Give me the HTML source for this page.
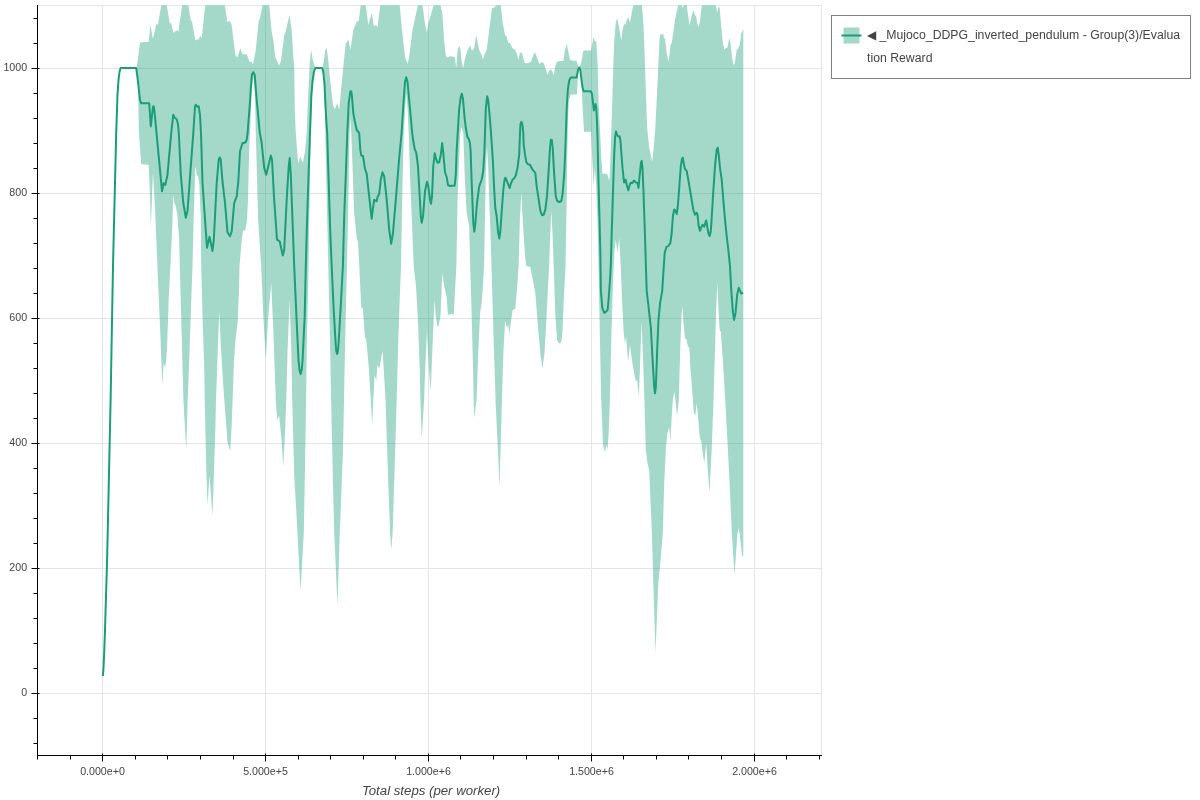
<!DOCTYPE html>
<html><head><meta charset="utf-8"><title>Evaluation Reward</title>
<style>
html,body{margin:0;padding:0;background:#fff;}
body{width:1200px;height:800px;position:relative;overflow:hidden;font-family:"Liberation Sans",sans-serif;}
svg{position:absolute;left:0;top:0;}
svg text{font-family:"Liberation Sans",sans-serif;fill:#444;}
.tl{font-size:10.667px;}
.al{font-size:13.23px;font-style:italic;}
.legend{position:absolute;left:831px;top:15px;width:358px;height:62px;border:1px solid #808080;background:#fff;}
.legend .lab{position:absolute;left:35px;top:8px;width:330px;font-size:12.28px;line-height:22.5px;color:#444;white-space:nowrap;}
</style></head><body>
<svg width="1200" height="800" viewBox="0 0 1200 800">
<defs><clipPath id="cp"><rect x="38" y="5" width="784" height="750"/></clipPath></defs>
<rect x="37.5" y="5.5" width="784" height="750" fill="#fff" stroke="#e5e5e5" stroke-width="1"/>
<path d="M102.5 5.5V755.5M265.5 5.5V755.5M428.5 5.5V755.5M591.5 5.5V755.5M754.5 5.5V755.5M37.5 693.5H821.5M37.5 568.5H821.5M37.5 443.5H821.5M37.5 318.5H821.5M37.5 193.5H821.5M37.5 68.5H821.5" stroke="#e5e5e5" stroke-width="1" fill="none"/>
<g clip-path="url(#cp)">
<polygon points="136.7,68 140,42.5 148.8,41.7 150.3,25 153,39 156.3,24 158,24.7 161.3,5 166.7,5 169.7,23.3 171.3,23.3 173.3,32.8 177,30.3 178.3,31.7 182.2,5 188.3,5 190.8,20.8 192,21.3 195.3,40.5 197.5,39.2 198.7,39.7 200,35.8 201.7,38.3 205.3,5 224.7,5 227.5,22.2 229.7,20.8 231.7,25 235.3,55 237.5,57.5 240.3,48.3 242.5,54.2 246.7,54.2 249.5,61.7 251.7,62 253,64.2 255.8,50 258.7,20.8 260,18.3 262.5,5 269.2,5 271.7,31.7 273.3,40 275.3,57.5 279.2,65.3 280.8,61.7 284.3,35 285.7,31.3 287.5,23.6 289.5,15 291.7,30 293.2,55 294.3,68 294.7,108 295.8,133 297,149.7 298.3,163.8 300.3,156.3 302,161.3 303,162.2 305,151.3 306.7,133 308,100 309.7,63.3 311.2,49.7 312.75,60 315,66.75 315.6,67.6 322,67.6 322.5,67.5 324,60 325.3,50 326.7,48 328,58.3 330,78.3 331.7,93.3 333,105 335,109.2 337.2,103 339.2,109.7 340.8,93.3 342.5,75 345,50 345.8,43.7 348.3,39.5 350.5,49.7 353.3,30 356.7,21.7 358.7,20.8 360.8,5 365.8,5 368.3,25 371.7,13.3 373.8,25.8 376.3,25 377.5,27.5 380.3,5 399.7,5 402,30 405,56.7 407.5,63.8 409.2,56.7 412.5,30 415,18.3 418,5 422.5,5 424.7,21.7 426.7,32.5 428.7,21.7 430.8,15 433.7,5 440.5,5 442.5,15 444.2,41.7 445.8,55.8 447.5,57.5 450,56.3 454.7,57 456.3,68 457.5,50 459.2,46.3 460.3,48.3 461.7,61.7 463.3,68.3 465,58.3 467.5,50.8 470,45.3 472,50.8 474.2,48.3 476.2,35.3 479.2,50 481.3,54.2 483,59.5 484.2,55 486.7,50 489.2,30 492,8.3 494.2,7.5 496.7,5 500.8,5 502.5,21.7 505,35 506.7,36.7 508.3,43.3 509.7,42.5 512.5,48.3 515,49.7 517,54.2 518.3,59.7 520,53.3 521.2,52 522.5,55 524.7,63 527.5,63.3 530.8,62 533.3,55 535,52.2 536.7,56.7 539.2,63.7 542.5,62 544.2,64.2 545.8,69.2 547.5,74.7 549.2,70.8 550.8,69.2 552.5,71.7 553.8,75.3 555.3,65.8 557,61.7 560,61 563.3,61 565,50 566.7,43.7 568.3,51.7 570,59.7 572.5,60.8 576.7,60.8 578.25,66.75 579.2,67.5 581.25,63 583.1,51.4 584.25,50.6 591,50.6 592.5,42.75 593.6,36.6 594.75,41.25 596.25,41.6 597,52.5 597.75,67.5 598.6,102.5 599.75,125 601.3,158 602.4,173.75 605,173.75 607.25,174 608.75,179 609.5,180.5 610.25,162.5 611,140 611.75,117.5 612.5,95 613.5,60 614.25,41.25 615.8,21.7 617.5,18.7 619.2,28.3 621.3,40.8 622.5,30 624.2,23.3 625.3,25 626.7,20 628.3,17.5 630,22.5 631.7,13.3 633.3,5 641.9,5 643.5,25 644.6,52.5 645.5,80 646.5,110 647.2,128 649.2,147.5 652.2,162 653.75,147.5 655.2,130 656.7,100 658.3,66.7 659.6,38.3 660.5,33.8 662.2,35 663.3,33 663.8,38 665,38.7 666.7,53.3 668.4,62 669.7,53.3 670.5,44.7 671.7,43.3 673.3,32.5 675,20 676.7,11.7 678.3,5 681.7,5 682.5,8.3 683.7,5 686.7,5 688,15 689.5,25.3 690.8,20 692.5,12.5 693.5,10.8 695,15 696.2,16.3 697.2,23.3 698.3,26.7 699.7,23.3 700.8,13.3 702,5 715.8,5 717.2,12.5 718.7,6.3 719.7,8.3 720.8,21.7 722.5,40 724.2,49.7 725.8,48.3 727.5,47.5 728.7,40.8 729.5,38.3 730.5,43.3 731.7,55 733,63.3 733.8,65.3 735,61.7 736.7,50 738.3,48.3 739.7,45 741.3,33.3 743.3,29.2 743.3,555.5 742,556 739.7,533 738.3,528.3 737.5,533 734.5,574.7 731.8,533 730,491.7 727.5,441.7 725.2,400 723.8,374.9 722.1,349.8 720.9,332.2 719.6,329.6 718.4,307.9 717.4,282.8 716.2,307.9 715,349.8 713.5,400 712,441.7 710.8,466.7 709.5,492.5 707.5,466.7 706.3,443.7 705.5,450 704.3,463.3 703,455 701.7,443.3 699.7,436.7 698,416.7 696.7,403.3 695.3,415.8 693.7,411.7 692.9,400 691.9,386.6 690.3,366.5 689.4,348.1 687.7,345.6 686.6,339.7 684.9,338 683.6,324.6 682.4,306.2 681.5,316.3 680.2,349.8 678.8,400 677,416.3 675.5,400 674.3,391.2 672.8,400 671.7,416.7 670.5,441.3 669.2,427 667.2,434 665.8,450 664.2,483.3 662.8,533 660.8,558 658.3,583 655.5,652.7 653.3,583 651.9,533 650.8,508.3 649.2,470 647.5,463.3 645.8,450 644.4,400 643.3,366.5 641.6,321.3 640,366.5 638.8,396.6 637.1,379.9 635.8,381.6 632.4,363.2 629.9,344.7 628.2,362.3 626.1,336.4 624.9,343 623.7,333 622.4,307.9 620.7,266 619.2,238 617.5,253 615.8,239.7 614.5,250 613.7,266 612.7,291.1 611.5,333 609.9,400 608.7,433.3 607.5,449.7 606.3,445 605,452.5 603,445 601.2,400 599.8,333 598.6,266 597.5,220 596.2,185 594.9,167 593.7,186 592.3,160 591.1,131.75 584,131.75 582.5,105 581.4,80 580.3,72 579.2,68.5 578.2,72 576.9,94.3 570.7,94.5 568.9,100 568,120 567.3,150 566.7,200 565.5,266 563.8,299.5 562.4,333 561.2,342.2 559.1,343.4 557.1,339.7 555.4,316.3 553.7,266 552.5,233 551.3,210.5 550.3,233 549.1,266 547.8,291.1 546.2,324.6 544.5,353.1 542.3,368.5 540.3,353.1 537.8,324.6 535.3,292.8 532.8,279.4 530.3,267 526.3,266 525,256.3 523,224.7 521.3,193 520,216.3 518.6,266 516.9,291.1 515.2,308.7 512.7,309.9 511,321.3 509.3,334.3 508.1,324.6 507.1,328 505.1,321.3 503.5,349.8 501.9,400 500.8,441.7 499.5,486.7 498.3,458.3 496.7,425 495.5,400 495.1,383.3 493.4,333 491.5,266 490.2,225 489.2,200 488.3,170 487,146 485.8,172 485.3,200 484.1,266 482.6,291.1 481.5,304 480.1,312.9 478.4,349.8 476.5,400 474.3,417.8 473.6,400 473.2,374.9 471.7,316.3 470.2,266 469.2,226.3 466.7,213 465,183 463.3,133 461.5,127 460.3,133 459.2,158 457.5,199.7 456.4,266 455,291.1 453.8,314.6 451,314 448,314.9 446.6,296.2 444.1,286.1 442.5,273 442,280 441.2,300 440.5,316 439.3,322 438.2,327.6 437.2,325 435.8,316 434.5,300 432.4,349.8 430.7,391.6 428.7,366.5 427,330.5 425.3,366.5 424.1,400 421.7,439.2 420.4,400 419.8,369.9 418.1,324.6 416,286.1 413.7,266 411.7,216.3 410,174.7 408.7,133 407.6,110 406.4,93.5 405.3,105 403.8,133 402.5,183 401,266 399.7,299.5 398,349.8 396.7,400 394.7,466.7 392.6,533 391.3,549.7 390.1,533 388.3,483.3 385.5,400 384.1,374.9 382.5,350.6 379.3,369 377.4,364.8 376.3,380.7 374.6,374.9 373.3,400 372.2,425 370.8,400 368.7,366.5 366.2,338.9 365,338 362.9,308.7 361.2,307 359.3,266 358,242.2 356.7,238 354.2,213 352.5,166.3 351.3,133 350.4,118 349.5,133 348.7,183 347,266 345.3,333 344,400 343,450 341.7,483.3 339.8,533 337.5,605.5 334.2,533 333,483.3 331.1,400 330.2,349.8 328.3,266 325.3,133 324.6,98 324,83 323,72.5 322.1,68.2 315.4,68.2 314.1,72.5 312.7,83 311.6,98 310.6,133 308.6,266 306.7,349.8 306.1,400 305,466.7 303.8,533 300.5,591.7 297.5,533 294.2,475 292.2,400 291.3,349.8 289.6,299.5 287.6,349.8 286.3,400 285,433.3 283.3,466.7 281.7,441.7 279.2,415.8 277.2,419.7 275.8,400 273.4,333 271.2,282.8 268.3,316.3 265.8,359.8 263.3,316.3 261.2,266 260,249.7 258,216.3 256.7,166.3 255.8,133 255,95 253.3,76 251.5,95 250,133 249.2,149.7 248,199.7 247,219.7 245.3,230.5 243,230.5 241.7,239.7 239.5,266 239,291.1 237.7,321.3 235.7,338 234,359.8 232.6,400 231.7,425 230.2,451.3 227.5,441.7 224.3,400 223.1,383.3 220.6,341.4 219.3,311.2 218.1,341.4 216,400 215,441.7 212.5,515.8 209.5,475.8 207.5,505 206.2,466.7 204.7,400 204.2,366.5 202.5,316.3 201.2,266 200.8,216.3 199.2,183 198,176 196.7,174.7 195.8,166.3 195.3,168.8 193.7,216.3 192.5,266 191.3,299.5 189.6,349.8 187.7,400 186.2,449.7 183.4,400 182.1,349.8 179.8,266 179.2,241.3 177.5,216.3 175.8,206.3 174.5,203.8 173.3,195.5 172,233 170.4,266 168.7,299.5 167,349.8 165.3,367.8 163.7,363 162.3,385.3 160.3,333 157.4,266 155,208 153,172.2 152,196.3 150.8,228 150,196.3 148.7,164.7 141.3,164.3 138.9,133 138,83 136.7,68" fill="#fff"/>
<path d="M37.5 68.5H821.5M37.5 193.5H821.5M37.5 318.5H821.5M37.5 443.5H821.5M37.5 568.5H821.5M102.5 5.5V755.5M265.5 5.5V755.5M428.5 5.5V755.5M591.5 5.5V755.5" stroke="#e5e5e5" stroke-width="1" fill="none"/>
<polygon points="136.7,68 140,42.5 148.8,41.7 150.3,25 153,39 156.3,24 158,24.7 161.3,5 166.7,5 169.7,23.3 171.3,23.3 173.3,32.8 177,30.3 178.3,31.7 182.2,5 188.3,5 190.8,20.8 192,21.3 195.3,40.5 197.5,39.2 198.7,39.7 200,35.8 201.7,38.3 205.3,5 224.7,5 227.5,22.2 229.7,20.8 231.7,25 235.3,55 237.5,57.5 240.3,48.3 242.5,54.2 246.7,54.2 249.5,61.7 251.7,62 253,64.2 255.8,50 258.7,20.8 260,18.3 262.5,5 269.2,5 271.7,31.7 273.3,40 275.3,57.5 279.2,65.3 280.8,61.7 284.3,35 285.7,31.3 287.5,23.6 289.5,15 291.7,30 293.2,55 294.3,68 294.7,108 295.8,133 297,149.7 298.3,163.8 300.3,156.3 302,161.3 303,162.2 305,151.3 306.7,133 308,100 309.7,63.3 311.2,49.7 312.75,60 315,66.75 315.6,67.6 322,67.6 322.5,67.5 324,60 325.3,50 326.7,48 328,58.3 330,78.3 331.7,93.3 333,105 335,109.2 337.2,103 339.2,109.7 340.8,93.3 342.5,75 345,50 345.8,43.7 348.3,39.5 350.5,49.7 353.3,30 356.7,21.7 358.7,20.8 360.8,5 365.8,5 368.3,25 371.7,13.3 373.8,25.8 376.3,25 377.5,27.5 380.3,5 399.7,5 402,30 405,56.7 407.5,63.8 409.2,56.7 412.5,30 415,18.3 418,5 422.5,5 424.7,21.7 426.7,32.5 428.7,21.7 430.8,15 433.7,5 440.5,5 442.5,15 444.2,41.7 445.8,55.8 447.5,57.5 450,56.3 454.7,57 456.3,68 457.5,50 459.2,46.3 460.3,48.3 461.7,61.7 463.3,68.3 465,58.3 467.5,50.8 470,45.3 472,50.8 474.2,48.3 476.2,35.3 479.2,50 481.3,54.2 483,59.5 484.2,55 486.7,50 489.2,30 492,8.3 494.2,7.5 496.7,5 500.8,5 502.5,21.7 505,35 506.7,36.7 508.3,43.3 509.7,42.5 512.5,48.3 515,49.7 517,54.2 518.3,59.7 520,53.3 521.2,52 522.5,55 524.7,63 527.5,63.3 530.8,62 533.3,55 535,52.2 536.7,56.7 539.2,63.7 542.5,62 544.2,64.2 545.8,69.2 547.5,74.7 549.2,70.8 550.8,69.2 552.5,71.7 553.8,75.3 555.3,65.8 557,61.7 560,61 563.3,61 565,50 566.7,43.7 568.3,51.7 570,59.7 572.5,60.8 576.7,60.8 578.25,66.75 579.2,67.5 581.25,63 583.1,51.4 584.25,50.6 591,50.6 592.5,42.75 593.6,36.6 594.75,41.25 596.25,41.6 597,52.5 597.75,67.5 598.6,102.5 599.75,125 601.3,158 602.4,173.75 605,173.75 607.25,174 608.75,179 609.5,180.5 610.25,162.5 611,140 611.75,117.5 612.5,95 613.5,60 614.25,41.25 615.8,21.7 617.5,18.7 619.2,28.3 621.3,40.8 622.5,30 624.2,23.3 625.3,25 626.7,20 628.3,17.5 630,22.5 631.7,13.3 633.3,5 641.9,5 643.5,25 644.6,52.5 645.5,80 646.5,110 647.2,128 649.2,147.5 652.2,162 653.75,147.5 655.2,130 656.7,100 658.3,66.7 659.6,38.3 660.5,33.8 662.2,35 663.3,33 663.8,38 665,38.7 666.7,53.3 668.4,62 669.7,53.3 670.5,44.7 671.7,43.3 673.3,32.5 675,20 676.7,11.7 678.3,5 681.7,5 682.5,8.3 683.7,5 686.7,5 688,15 689.5,25.3 690.8,20 692.5,12.5 693.5,10.8 695,15 696.2,16.3 697.2,23.3 698.3,26.7 699.7,23.3 700.8,13.3 702,5 715.8,5 717.2,12.5 718.7,6.3 719.7,8.3 720.8,21.7 722.5,40 724.2,49.7 725.8,48.3 727.5,47.5 728.7,40.8 729.5,38.3 730.5,43.3 731.7,55 733,63.3 733.8,65.3 735,61.7 736.7,50 738.3,48.3 739.7,45 741.3,33.3 743.3,29.2 743.3,555.5 742,556 739.7,533 738.3,528.3 737.5,533 734.5,574.7 731.8,533 730,491.7 727.5,441.7 725.2,400 723.8,374.9 722.1,349.8 720.9,332.2 719.6,329.6 718.4,307.9 717.4,282.8 716.2,307.9 715,349.8 713.5,400 712,441.7 710.8,466.7 709.5,492.5 707.5,466.7 706.3,443.7 705.5,450 704.3,463.3 703,455 701.7,443.3 699.7,436.7 698,416.7 696.7,403.3 695.3,415.8 693.7,411.7 692.9,400 691.9,386.6 690.3,366.5 689.4,348.1 687.7,345.6 686.6,339.7 684.9,338 683.6,324.6 682.4,306.2 681.5,316.3 680.2,349.8 678.8,400 677,416.3 675.5,400 674.3,391.2 672.8,400 671.7,416.7 670.5,441.3 669.2,427 667.2,434 665.8,450 664.2,483.3 662.8,533 660.8,558 658.3,583 655.5,652.7 653.3,583 651.9,533 650.8,508.3 649.2,470 647.5,463.3 645.8,450 644.4,400 643.3,366.5 641.6,321.3 640,366.5 638.8,396.6 637.1,379.9 635.8,381.6 632.4,363.2 629.9,344.7 628.2,362.3 626.1,336.4 624.9,343 623.7,333 622.4,307.9 620.7,266 619.2,238 617.5,253 615.8,239.7 614.5,250 613.7,266 612.7,291.1 611.5,333 609.9,400 608.7,433.3 607.5,449.7 606.3,445 605,452.5 603,445 601.2,400 599.8,333 598.6,266 597.5,220 596.2,185 594.9,167 593.7,186 592.3,160 591.1,131.75 584,131.75 582.5,105 581.4,80 580.3,72 579.2,68.5 578.2,72 576.9,94.3 570.7,94.5 568.9,100 568,120 567.3,150 566.7,200 565.5,266 563.8,299.5 562.4,333 561.2,342.2 559.1,343.4 557.1,339.7 555.4,316.3 553.7,266 552.5,233 551.3,210.5 550.3,233 549.1,266 547.8,291.1 546.2,324.6 544.5,353.1 542.3,368.5 540.3,353.1 537.8,324.6 535.3,292.8 532.8,279.4 530.3,267 526.3,266 525,256.3 523,224.7 521.3,193 520,216.3 518.6,266 516.9,291.1 515.2,308.7 512.7,309.9 511,321.3 509.3,334.3 508.1,324.6 507.1,328 505.1,321.3 503.5,349.8 501.9,400 500.8,441.7 499.5,486.7 498.3,458.3 496.7,425 495.5,400 495.1,383.3 493.4,333 491.5,266 490.2,225 489.2,200 488.3,170 487,146 485.8,172 485.3,200 484.1,266 482.6,291.1 481.5,304 480.1,312.9 478.4,349.8 476.5,400 474.3,417.8 473.6,400 473.2,374.9 471.7,316.3 470.2,266 469.2,226.3 466.7,213 465,183 463.3,133 461.5,127 460.3,133 459.2,158 457.5,199.7 456.4,266 455,291.1 453.8,314.6 451,314 448,314.9 446.6,296.2 444.1,286.1 442.5,273 442,280 441.2,300 440.5,316 439.3,322 438.2,327.6 437.2,325 435.8,316 434.5,300 432.4,349.8 430.7,391.6 428.7,366.5 427,330.5 425.3,366.5 424.1,400 421.7,439.2 420.4,400 419.8,369.9 418.1,324.6 416,286.1 413.7,266 411.7,216.3 410,174.7 408.7,133 407.6,110 406.4,93.5 405.3,105 403.8,133 402.5,183 401,266 399.7,299.5 398,349.8 396.7,400 394.7,466.7 392.6,533 391.3,549.7 390.1,533 388.3,483.3 385.5,400 384.1,374.9 382.5,350.6 379.3,369 377.4,364.8 376.3,380.7 374.6,374.9 373.3,400 372.2,425 370.8,400 368.7,366.5 366.2,338.9 365,338 362.9,308.7 361.2,307 359.3,266 358,242.2 356.7,238 354.2,213 352.5,166.3 351.3,133 350.4,118 349.5,133 348.7,183 347,266 345.3,333 344,400 343,450 341.7,483.3 339.8,533 337.5,605.5 334.2,533 333,483.3 331.1,400 330.2,349.8 328.3,266 325.3,133 324.6,98 324,83 323,72.5 322.1,68.2 315.4,68.2 314.1,72.5 312.7,83 311.6,98 310.6,133 308.6,266 306.7,349.8 306.1,400 305,466.7 303.8,533 300.5,591.7 297.5,533 294.2,475 292.2,400 291.3,349.8 289.6,299.5 287.6,349.8 286.3,400 285,433.3 283.3,466.7 281.7,441.7 279.2,415.8 277.2,419.7 275.8,400 273.4,333 271.2,282.8 268.3,316.3 265.8,359.8 263.3,316.3 261.2,266 260,249.7 258,216.3 256.7,166.3 255.8,133 255,95 253.3,76 251.5,95 250,133 249.2,149.7 248,199.7 247,219.7 245.3,230.5 243,230.5 241.7,239.7 239.5,266 239,291.1 237.7,321.3 235.7,338 234,359.8 232.6,400 231.7,425 230.2,451.3 227.5,441.7 224.3,400 223.1,383.3 220.6,341.4 219.3,311.2 218.1,341.4 216,400 215,441.7 212.5,515.8 209.5,475.8 207.5,505 206.2,466.7 204.7,400 204.2,366.5 202.5,316.3 201.2,266 200.8,216.3 199.2,183 198,176 196.7,174.7 195.8,166.3 195.3,168.8 193.7,216.3 192.5,266 191.3,299.5 189.6,349.8 187.7,400 186.2,449.7 183.4,400 182.1,349.8 179.8,266 179.2,241.3 177.5,216.3 175.8,206.3 174.5,203.8 173.3,195.5 172,233 170.4,266 168.7,299.5 167,349.8 165.3,367.8 163.7,363 162.3,385.3 160.3,333 157.4,266 155,208 153,172.2 152,196.3 150.8,228 150,196.3 148.7,164.7 141.3,164.3 138.9,133 138,83 136.7,68" fill="#1b9e77" fill-opacity="0.4"/>
<polyline points="102.9,676 103.5,668 104.1,655 105,630 107.1,560 107.7,533 110.6,400 113,266 116.2,133 117.5,95 118.5,80 119.5,72 120.6,67.9 136.2,67.9 138,81.7 140,100 141.2,103.3 149.2,103.3 150.8,126.3 153,106.7 153.8,106.3 154.7,113.3 156.5,133 159.2,161.3 162,191.3 163.7,183 165.3,185 167.5,174.7 171.2,133 173.3,114.7 174.5,117.5 176.7,119.2 178,124.2 178.8,133 180.8,174.7 183.3,203 185.8,217.7 187.5,211.3 190.8,166.3 193.3,133 195,106.7 195.8,104.7 197.2,106.7 198.7,106.3 200,115 201,133 202.5,183 207,247.7 209.5,236.7 212.5,251 213.8,239.7 216.7,183 218.7,159.7 219.7,157.5 220.7,159.7 222.5,181.3 225,203 227.5,232.2 230,236.3 231.7,231.3 234.2,203 236.7,196.3 238.3,181.3 240,151.3 242.5,143.3 245.8,142.2 246.8,139 247.7,132 250.1,100 250.9,86.7 252,74.2 253.3,72.2 254.7,75 256.7,100 259.8,133 261.7,143 264.2,168 266.2,174.7 268.3,166.3 270.8,155.5 272,159.7 274.2,199.7 277,239.7 279.7,241.3 282.8,255.5 284.2,249.7 286.7,199.7 288.7,166.3 289.7,158 290.8,174.7 292.5,220 294.2,266 296.8,324.6 298.5,360 299.5,370 300.6,374 301.7,370 302.6,359.8 304.7,316.3 305.8,266 306.7,233 308.3,183 310,133 310.5,120 311.25,97.5 312.4,82.5 313.9,72 315.4,67.9 322.1,67.9 323.25,72 324.4,82.5 325.1,97.5 326.25,120 327.2,133 328.7,183 330.3,233 331.7,266 333.6,307.9 335.6,343 336.3,351 337.1,354 337.9,351 338.6,343 341.1,299.5 342.9,266 344.2,216.3 345.8,174.7 347.3,133 348.7,103.3 350.3,91.7 351.2,91.2 352,96.7 353.3,113.3 354.7,120.8 356.7,130 359.2,133 360.3,149.7 361.3,155.5 363,156 365,168.8 366.7,173.8 369.2,196.3 371.7,218.8 373,208 374.2,199.7 375.3,200.5 376.7,201.3 377.5,197.2 379.2,193.8 380.8,179.7 382.5,172.2 384.2,176.3 386.7,199.7 389.2,229.7 391.2,243.8 393,233 395.8,199.7 399.2,158 401.6,133 403.7,100 405,81.7 406.2,77.2 407.5,81.7 409.2,100 412.2,133 413.3,141.3 414.7,148.8 416.3,153 418,166.3 419.7,196.3 420.8,216.3 421.7,222.7 423,216.3 425,191.3 427,181.7 428.3,186.3 430,199.7 431,203.8 432,196.3 433.3,166.3 434.7,153.3 436.3,159.7 437.5,162.7 439.2,162.2 440.8,154.7 442.2,143 443.3,153 445,172.2 446.7,177.2 448,185 450,186 454.7,185.5 455.8,174.7 456.7,149.7 457.7,133 459.2,108.3 460.8,96.7 461.8,93.7 463,99 464.5,117 465.8,128 467.3,136.5 468.8,139 469.9,143 470.6,150 471.7,183 473.3,223 474.3,231.7 475.3,224.7 477,203 479.2,186.3 481.7,179.5 483.2,171.3 484.4,152 485,133 485.8,108.3 487.2,96.3 488.3,101 490,120 491,133 491.7,143 493,163 494.2,189.7 495.3,208 496.7,216.3 498,231.3 499.3,238.5 500.3,231.3 501.7,211.3 503.3,189.7 504.7,178.8 505.5,177.7 506.7,180.5 508.3,184.7 509.7,188 510.8,183.8 512.5,179.7 514.2,178.3 515.8,175.5 517.5,168 519.2,154.7 520,133 520.5,124.2 521.5,121.7 522.5,125 523.3,133 523.7,144.7 525,154.7 526.3,162.2 528,164.2 530,164.7 532,168.8 533.7,171 535.3,173 536.7,186.3 538.7,199.7 540.3,210.5 542,215.2 543.7,214.7 545.3,209.7 547,196.3 548.7,169.7 550,148 550.8,140 551.7,139.7 552.7,148 554.2,174.7 555.8,196.3 557.2,201 559.2,202 561.2,201.3 562.5,194.7 564.2,174.7 565.3,150 565.9,133 566.7,108.3 567.8,90 569.2,80.5 570.8,77.5 576.7,77.5 578,70 579.2,67.5 580.3,70 581.6,81 582.6,87.5 583.6,91.25 590.75,91.25 591.9,93.5 593,102.5 593.9,110.5 595.5,104 596.3,108 597.1,125 597.6,140 598.2,170 599.2,208 600.3,250 600.9,291.1 602.3,307.9 604.3,312.9 606.5,311.2 607.6,309.9 608.6,299.5 609.8,282.8 610.8,266 611.7,233 613,191.3 614.2,155 615.1,137 616,131.4 617,134.75 618.1,136.6 619.6,136.25 620.5,141 621.5,155 622.7,170 624.1,182.4 625.6,179.7 626.7,184.7 628.3,190.2 629.7,184.7 630.8,182.7 632.5,183 634,180.5 635.8,182.3 637.5,183 638.5,188 639.7,175 641,162.5 641.7,160.8 642.5,168 643.5,192 645,236.3 645.9,266 646.7,291.1 648.3,304.5 650.9,328 652.5,358.1 654.2,386.6 655,393.3 655.9,386.6 657.2,349.8 658.4,321.3 660.1,302.9 662.2,291.1 663.8,266 664.7,253 666.3,247.2 668.3,246 670.3,243.2 671.7,233 672.9,216.3 674.2,209.5 675.3,210.3 676.7,214 677.9,205.5 679.2,188 680.8,166.3 682,158.8 682.8,157.7 683.7,163 684.7,168.3 686.7,171 688.3,179.7 690.8,194.7 693.3,209.7 695,214.7 696.7,212.7 697.5,214.7 698.7,226.3 700,230.8 701.3,227.2 702.5,224.7 704.2,226.7 705.5,222.2 706.3,220.5 707.5,228 708.7,234.3 709.7,236 710.8,231.3 712,213 713.3,191.3 715,166.3 716.7,149.7 717.7,147.7 718.7,154.7 720,168 721.7,179.7 723.3,199.7 725,219.7 726.7,236.3 728.3,249.7 730,266 731.3,291.1 733,312.9 734.1,319.9 735.5,312.9 737.2,294.5 738.8,287.8 740.2,291.1 741.3,293.6 743,292.5" fill="none" stroke="#1b9e77" stroke-width="2" stroke-linejoin="round"/>
</g>
<path d="M37.5 5V756M37 755.5H822M37.5 755.5V759.5M70.5 755.5V759.5M102.5 753.5V761.5M135.5 755.5V759.5M167.5 755.5V759.5M200.5 755.5V759.5M233.5 755.5V759.5M265.5 753.5V761.5M298.5 755.5V759.5M330.5 755.5V759.5M363.5 755.5V759.5M395.5 755.5V759.5M428.5 753.5V761.5M460.5 755.5V759.5M493.5 755.5V759.5M526.5 755.5V759.5M558.5 755.5V759.5M591.5 753.5V761.5M623.5 755.5V759.5M656.5 755.5V759.5M688.5 755.5V759.5M721.5 755.5V759.5M754.5 753.5V761.5M786.5 755.5V759.5M819.5 755.5V759.5M33.5 743.5H37.5M33.5 718.5H37.5M31.5 693.5H39.5M33.5 668.5H37.5M33.5 643.5H37.5M33.5 618.5H37.5M33.5 593.5H37.5M31.5 568.5H39.5M33.5 543.5H37.5M33.5 518.5H37.5M33.5 493.5H37.5M33.5 468.5H37.5M31.5 443.5H39.5M33.5 418.5H37.5M33.5 393.5H37.5M33.5 368.5H37.5M33.5 343.5H37.5M31.5 318.5H39.5M33.5 293.5H37.5M33.5 268.5H37.5M33.5 243.5H37.5M33.5 218.5H37.5M31.5 193.5H39.5M33.5 168.5H37.5M33.5 143.5H37.5M33.5 118.5H37.5M33.5 93.5H37.5M31.5 68.5H39.5M33.5 43.5H37.5M33.5 18.5H37.5" stroke="#000" stroke-width="1" fill="none"/>
<text class="tl" x="102.5" y="774.7" text-anchor="middle">0.000e+0</text>
<text class="tl" x="265.5" y="774.7" text-anchor="middle">5.000e+5</text>
<text class="tl" x="428.5" y="774.7" text-anchor="middle">1.000e+6</text>
<text class="tl" x="591.5" y="774.7" text-anchor="middle">1.500e+6</text>
<text class="tl" x="754.5" y="774.7" text-anchor="middle">2.000e+6</text>
<text class="tl" x="27.1" y="696.1" text-anchor="end">0</text>
<text class="tl" x="27.1" y="571.1" text-anchor="end">200</text>
<text class="tl" x="27.1" y="446.1" text-anchor="end">400</text>
<text class="tl" x="27.1" y="321.1" text-anchor="end">600</text>
<text class="tl" x="27.1" y="196.1" text-anchor="end">800</text>
<text class="tl" x="27.1" y="71.1" text-anchor="end">1000</text>
<text class="al" x="431.1" y="794.7" text-anchor="middle">Total steps (per worker)</text>
</svg>
<div class="legend">
<svg width="40" height="40" viewBox="0 0 40 40" style="left:0;top:0"><rect x="11.5" y="11.5" width="16" height="16" fill="#1b9e77" fill-opacity="0.4"/><path d="M9.5 19.5H29.5" stroke="#1b9e77" stroke-width="2"/></svg>
<div class="lab"><span style="margin-right:1px">&#9664;</span>&#8239;_Mujoco_DDPG_inverted_pendulum - Group(3)/Evalua<br>tion Reward</div>
</div>
</body></html>
